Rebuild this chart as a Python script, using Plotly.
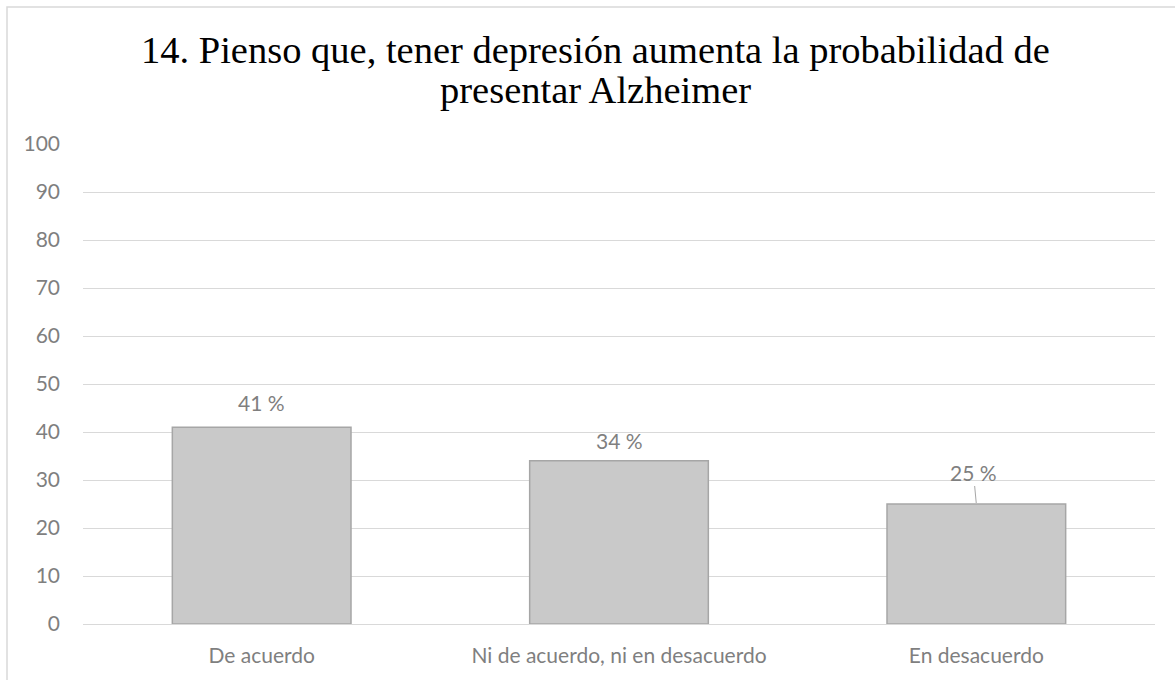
import plotly.graph_objects as go

categories = ["De acuerdo", "Ni de acuerdo, ni en desacuerdo", "En desacuerdo"]
values = [41, 34, 25]
label_texts = ["41 %", "34 %", "25 %"]
title_lines = ["14. Pienso que, tener depresión aumenta la probabilidad de",
               "presentar Alzheimer"]

GRAY_TEXT = "#7f7f7f"
GRID = "#d9d9d9"
FONT = "Lato"
TICK_SIZE = 21

# plot area in pixels: left 83, top 144, bottom 624 (480 px tall)
def paper_y(px):
    return (624 - px) / 480

fig = go.Figure()
fig.add_trace(go.Bar(
    x=categories,
    y=values,
    width=0.5,
    marker=dict(color="#c9c9c9", line=dict(color="#a6a6a6", width=1.5)),
    hoverinfo="skip",
))

# value labels above bars; the last one uses a short leader line
label_shift = [25, 20, None]
for cat, val, txt, sh in zip(categories, values, label_texts, label_shift):
    if sh is None:
        fig.add_annotation(
            x=cat, y=val, text=txt, showarrow=True, arrowhead=0,
            arrowwidth=1, arrowcolor="#a6a6a6", ax=-3, ay=-32, standoff=1,
            font=dict(family=FONT, size=TICK_SIZE, color=GRAY_TEXT),
        )
    else:
        fig.add_annotation(
            x=cat, y=val, text=txt, showarrow=False, yshift=sh,
            yanchor="middle",
            font=dict(family=FONT, size=TICK_SIZE, color=GRAY_TEXT),
        )

# two-line title
for line, py in zip(title_lines, [50, 90]):
    fig.add_annotation(
        text=line, xref="paper", yref="paper", x=(595 - 83) / 1072,
        y=paper_y(py), xanchor="center", yanchor="middle", showarrow=False,
        font=dict(family="Liberation Serif", size=38.5, color="black"),
    )

# outer chart frame
fig.add_shape(
    type="rect", xref="paper", yref="paper",
    x0=(7 - 83) / 1072, x1=(1190 - 83) / 1072,
    y0=paper_y(690), y1=paper_y(7),
    line=dict(color=GRID, width=1.5), fillcolor="rgba(0,0,0,0)", layer="below",
)

fig.update_layout(
    width=1175, height=680,
    margin=dict(l=83, r=20, t=144, b=56),
    paper_bgcolor="white", plot_bgcolor="white",
    showlegend=False,
    bargap=0.5,
)
fig.update_yaxes(
    range=[0, 100], dtick=10, showgrid=True, gridcolor=GRID, gridwidth=1.2,
    zeroline=True, zerolinecolor=GRID, zerolinewidth=1.2,
    showline=False, ticks="", ticklabelstandoff=22,
    tickfont=dict(family=FONT, size=TICK_SIZE, color=GRAY_TEXT),
)
fig.update_xaxes(
    showgrid=False, showline=False, ticks="", ticklabelstandoff=17,
    tickfont=dict(family=FONT, size=TICK_SIZE, color=GRAY_TEXT),
)

fig.write_html("out.html")
